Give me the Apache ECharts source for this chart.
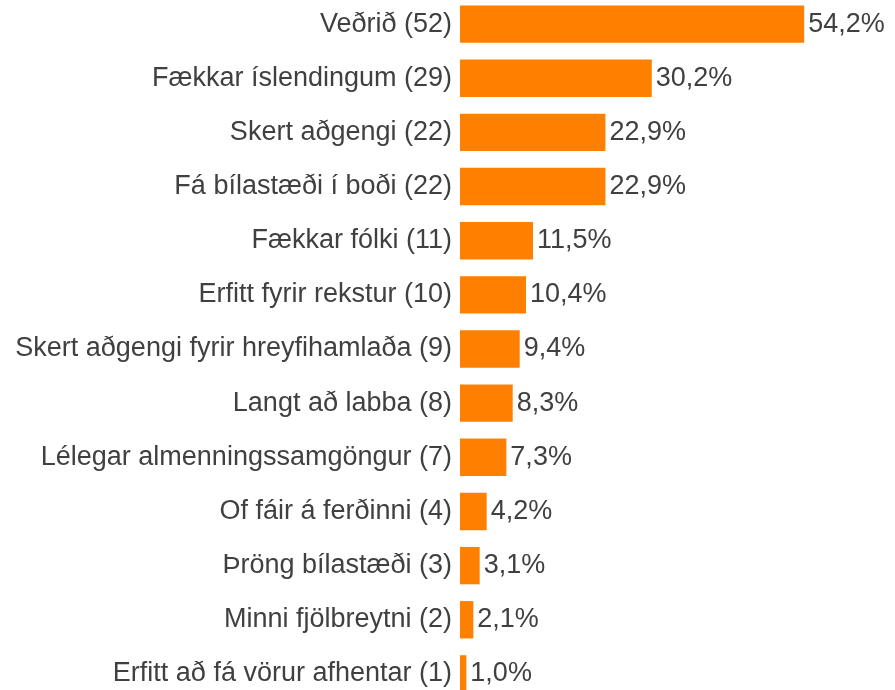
<!DOCTYPE html>
<html>
<head>
<meta charset="utf-8">
<script src="https://cdn.jsdelivr.net/npm/echarts@6/dist/echarts.min.js"></script>
<style>
html, body { margin: 0; padding: 0; background: #fff; overflow: hidden; }
#chart { width: 895px; height: 704px; position: absolute; left: 0; top: -3px; }
</style>
</head>
<body>
<div id="chart"></div>
<script>
var categories = ['Veðrið', 'Fækkar íslendingum', 'Skert aðgengi', 'Fá bílastæði í boði', 'Fækkar fólki',
    'Erfitt fyrir rekstur', 'Skert aðgengi fyrir hreyfihamlaða', 'Langt að labba', 'Lélegar almenningssamgöngur',
    'Of fáir á ferðinni', 'Þröng bílastæði', 'Minni fjölbreytni', 'Erfitt að fá vörur afhentar'];
var counts = [52, 29, 22, 22, 11, 10, 9, 8, 7, 4, 3, 2, 1];
var percents = [54.2, 30.2, 22.9, 22.9, 11.5, 10.4, 9.4, 8.3, 7.3, 4.2, 3.1, 2.1, 1.0];

var labels = categories.map(function (c, i) { return c + ' (' + counts[i] + ')'; });

var chart = echarts.init(document.getElementById('chart'));
chart.setOption({
    animation: false,
    grid: {
        left: 460,
        right: 0,
        top: 0,
        bottom: 0
    },
    xAxis: {
        type: 'value',
        min: 0,
        max: 68.5,
        show: false
    },
    yAxis: {
        type: 'category',
        inverse: true,
        data: labels,
        axisLine: { show: false },
        axisTick: { show: false },
        axisLabel: {
            margin: 8,
            color: '#404040',
            fontFamily: 'Liberation Sans',
            fontSize: 27
        }
    },
    series: [{
        type: 'bar',
        data: percents,
        barCategoryGap: '31%',
        itemStyle: { color: '#FF8000' },
        label: {
            show: true,
            position: 'right',
            distance: 4,
            color: '#404040',
            fontFamily: 'Liberation Sans',
            fontSize: 27,
            formatter: function (p) {
                return p.value.toFixed(1).replace('.', ',') + '%';
            }
        }
    }]
});
</script>
</body>
</html>
